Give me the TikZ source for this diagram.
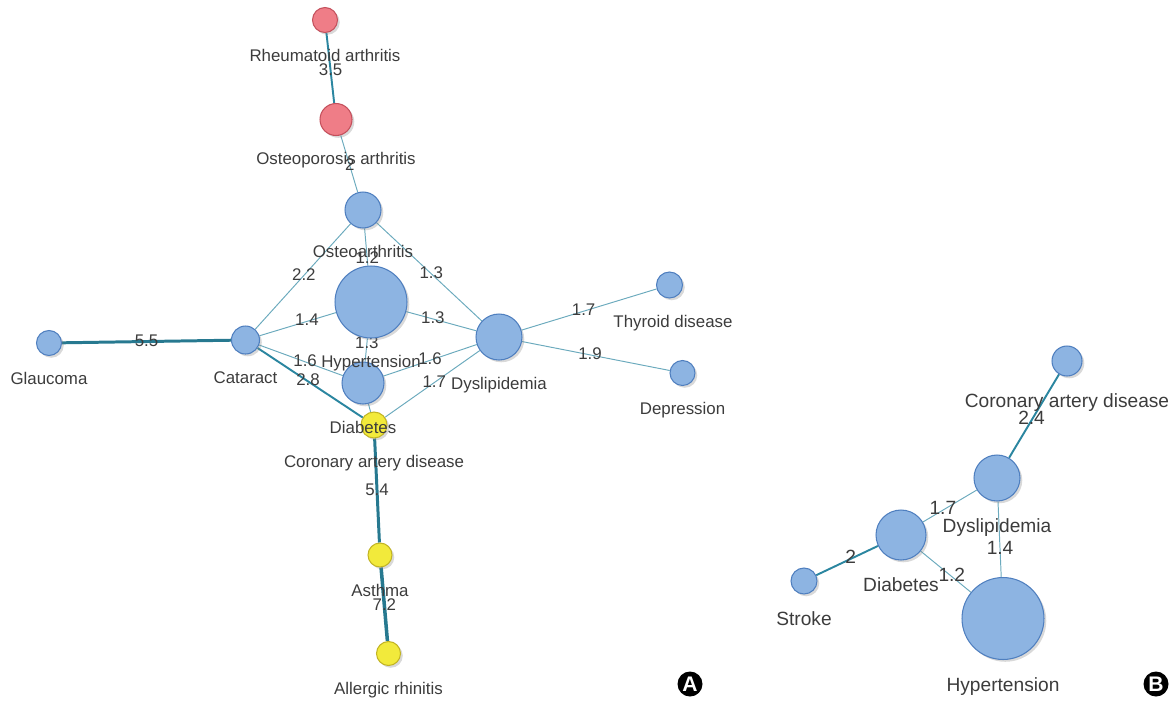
\documentclass[tikz,border=0pt]{standalone}
\usepackage{fontspec}
\setmainfont{Liberation Sans}
\usetikzlibrary{backgrounds,shadows}

\definecolor{nodeblue}{HTML}{8DB4E2}
\definecolor{lineblue}{HTML}{4F7FBF}
\definecolor{nodered}{HTML}{EF7D87}
\definecolor{linered}{HTML}{C4505C}
\definecolor{nodeyellow}{HTML}{F2EA3B}
\definecolor{lineyellow}{HTML}{C2B424}
\definecolor{edgeteal}{HTML}{2B86A0}
\definecolor{labelgray}{HTML}{3C3C3C}

\begin{document}
\begin{tikzpicture}[x=0.02cm, y=-0.02cm,
    dz/.style={circle, inner sep=0pt, line width=.6pt, minimum size=#1*0.04cm,
      drop shadow={shadow xshift=1.3pt, shadow yshift=-1.3pt, opacity=.3}},
    blue dz/.style={dz=#1, draw=lineblue, fill=nodeblue},
    red dz/.style={dz=#1, draw=linered, fill=nodered},
    yellow dz/.style={dz=#1, draw=lineyellow, fill=nodeyellow},
    lbl/.style={font=\fontsize{9.6}{11}\selectfont, text=labelgray, inner sep=0pt,
      text height=.72em, text depth=.2em},
    lblB/.style={lbl, font=\fontsize{10.9}{12}\selectfont},
    A label/.style={label={[lbl, label distance=.316cm]below:#1}},
    B label/.style={label={[lblB, label distance=.36cm]below:#1}},
    wt/.style={lbl},
    wtB/.style={lblB},
    thin e/.style={draw=edgeteal!70, line width=.55pt},
    mid e/.style={draw=edgeteal, line width=1.1pt},
    thick e/.style={draw=edgeteal!90!black, line width=1.7pt},
    badge/.style={circle, fill=black, text=white, inner sep=0pt, minimum size=0.5cm,
      font=\bfseries\fontsize{12}{12}\selectfont},
  ]
  \useasboundingbox (0,0) rectangle (1174,701);

  % panel A
  \node[red dz=12.5, A label={Rheumatoid arthritis}] (ra) at (325,20) {};
  \node[red dz=16, A label={Osteoporosis arthritis}] (op) at (336,119.5) {};
  \node[blue dz=18, A label=Osteoarthritis] (oa) at (363,210) {};
  \node[yellow dz=13, A label={Coronary artery disease}] (cad) at (374,425) {};
  \node[blue dz=21, A label=Diabetes] (dia) at (363,383) {};
  \node[blue dz=36, A label=Hypertension] (ht) at (371,302) {};
  \node[blue dz=14, A label=Cataract] (cat) at (245.5,340) {};
  \node[blue dz=12.5, A label=Glaucoma] (gla) at (49,343) {};
  \node[blue dz=23, A label=Dyslipidemia] (dys) at (499,337) {};
  \node[blue dz=13, label={[lbl, label distance=.316cm, xshift=.07cm]below:Thyroid disease}] (thy) at (669.5,285) {};
  \node[blue dz=12.5, A label=Depression] (dep) at (682.5,373) {};
  \node[yellow dz=12, A label=Asthma] (ast) at (380,555) {};
  \node[yellow dz=12, A label={Allergic rhinitis}] (ar) at (388.5,653.5) {};

  \begin{scope}[on background layer]
    \draw[mid e] (ra) -- node[wt, pos=.54] (w-ra-op) {3.5} (op);
    \draw[thin e] (op) -- node[wt, pos=.54] (w-op-oa) {2} (oa);
    \draw[thin e] (oa) -- node[wt, pos=.81] (w-oa-ht) {1.2} (ht);
    \draw[thin e] (oa) -- node[wt, pos=.49] (w-oa-cat) {2.2} (cat);
    \draw[thin e] (oa) -- node[wt, pos=.52] (w-oa-dys) {1.3} (dys);
    \draw[thin e] (cat) -- node[wt, pos=.62] (w-cat-ht) {1.4} (ht);
    \draw[thin e] (ht) -- node[wt, pos=.38] (w-ht-dys) {1.3} (dys);
    \draw[thin e] (ht) -- node[wt, pos=.23] (w-ht-dia) {1.3} (dia);
    \draw[thin e] (cat) -- node[wt, pos=.55] (w-cat-dia) {1.6} (dia);
    \draw[mid e] (cat) -- node[wt, pos=.48] (w-cat-cad) {2.8} (cad);
    \draw[thin e] (dia) -- node[wt, pos=.5] (w-dia-dys) {1.6} (dys);
    \draw[thin e] (cad) -- node[wt, pos=.52] (w-cad-dys) {1.7} (dys);
    \draw[thin e] (dia) -- (cad);
    \draw[thick e] (gla) -- node[wt, pos=.5] (w-gla-cat) {5.5} (cat);
    \draw[thin e] (dys) -- node[wt, pos=.46] (w-dys-thy) {1.7} (thy);
    \draw[thin e] (dys) -- node[wt, pos=.46] (w-dys-dep) {1.9} (dep);
    \draw[thick e] (cad) -- node[wt, pos=.5] (w-cad-ast) {5.4} (ast);
    \draw[thick e, line width=2pt] (ast) -- node[wt, pos=.52] (w-ast-ar) {7.2} (ar);
  \end{scope}

  \node[badge] (tagA) at (690,684) {A};

  % panel B
  \node[blue dz=15, B label={Coronary artery disease}] (bcad) at (1067,361) {};
  \node[blue dz=23, B label=Dyslipidemia] (bdys) at (997,478) {};
  \node[blue dz=25, B label=Diabetes] (bdia) at (901,535) {};
  \node[blue dz=13, B label=Stroke] (bstr) at (804,581) {};
  \node[blue dz=41, B label=Hypertension] (bht) at (1003,618.5) {};

  \begin{scope}[on background layer]
    \draw[mid e] (bcad) -- node[wtB, pos=.55] (w-bcad-bdys) {2.4} (bdys);
    \draw[thin e] (bdys) -- node[wtB, pos=.63] (w-bdys-bdia) {1.7} (bdia);
    \draw[thin e] (bdys) -- node[wtB, pos=.64] (w-bdys-bht) {1.4} (bht);
    \draw[thin e] (bdia) -- node[wtB, pos=.62] (w-bdia-bht) {1.2} (bht);
    \draw[mid e] (bstr) -- node[wtB, pos=.56] (w-bstr-bdia) {2} (bdia);
  \end{scope}

  \node[badge] (tagB) at (1156,684) {B};
\end{tikzpicture}
\end{document}
